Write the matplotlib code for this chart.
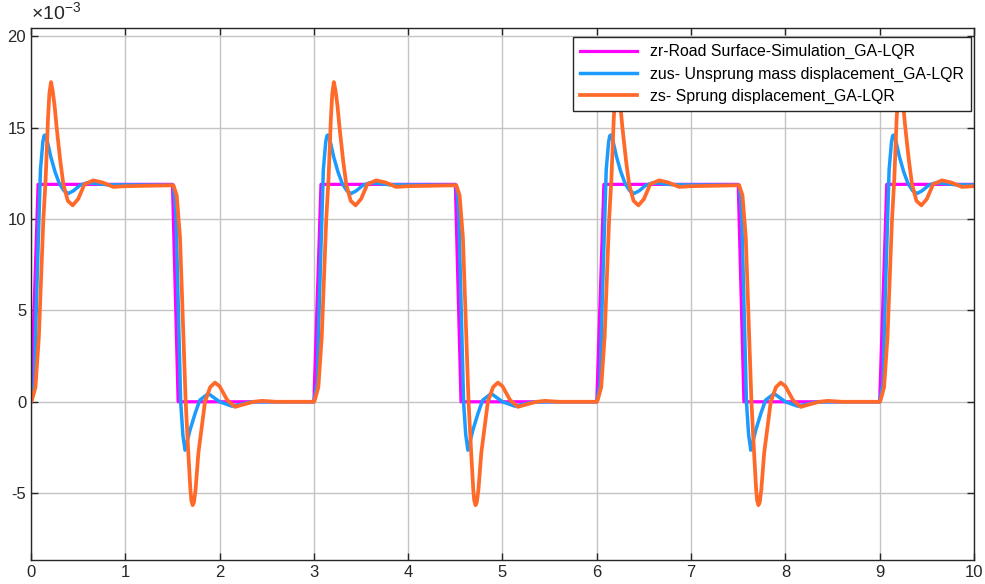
import numpy as np
import matplotlib.pyplot as plt

plt.rcParams['font.family'] = ['Liberation Sans', 'DejaVu Sans']
plt.rcParams['mathtext.fontset'] = 'custom'
plt.rcParams['mathtext.rm'] = 'Liberation Sans'
plt.rcParams['axes.unicode_minus'] = False

# one period (3 s) of each signal, values in units of 1e-3
period = 3.0
n_periods = 4

zr_t = [0.0, 0.075, 1.50, 1.56, 2.999]
zr_y = [0.0, 11.9, 11.9, 0.0, 0.0]

zus_t = [0.0, 0.02, 0.035, 0.057, 0.083, 0.10, 0.125, 0.137, 0.148, 0.16, 0.175,
         0.21, 0.254, 0.30, 0.35, 0.396, 0.45, 0.52, 0.59, 0.68, 0.80, 1.0, 1.51,
         1.525, 1.538, 1.562, 1.587, 1.61, 1.633, 1.686, 1.74, 1.79, 1.88, 2.0,
         2.13, 2.32, 2.5, 2.999]
zus_y = [0.0, 0.6, 1.0, 5.4, 9.9, 12.7, 14.2, 14.55, 14.6, 14.5, 14.2,
         13.4, 12.6, 11.95, 11.55, 11.4, 11.55, 11.85, 11.98, 11.95, 11.88, 11.87, 11.85,
         11.1, 10.0, 5.0, 0.0, -1.8, -2.65, -1.55, -0.64, 0.09, 0.45, 0.0,
         -0.24, -0.02, 0.0, 0.0]

zs_t = [0.0, 0.01, 0.047, 0.083, 0.13, 0.155, 0.18, 0.195, 0.212, 0.23, 0.25,
        0.272, 0.31, 0.343, 0.39, 0.442, 0.50, 0.566, 0.66, 0.76, 0.873, 1.0, 1.51,
        1.545, 1.58, 1.61, 1.64, 1.668, 1.69, 1.70, 1.714, 1.728, 1.745, 1.775,
        1.845, 1.90, 1.951, 2.0, 2.08, 2.163, 2.25, 2.36, 2.45, 2.6, 2.99]
zs_y = [0.0, 0.1, 0.8, 3.55, 9.9, 12.2, 15.5, 16.9, 17.5, 17.0, 16.2,
        15.0, 13.2, 11.9, 11.0, 10.75, 11.1, 11.9, 12.12, 12.0, 11.76, 11.8, 11.85,
        11.3, 9.0, 4.5, 0.0, -2.8, -4.8, -5.4, -5.66, -5.5, -4.8, -2.8,
        0.0, 0.8, 1.05, 0.85, 0.1, -0.28, -0.15, 0.0, 0.05, 0.0, 0.0]

labels = ['zr-Road Surface-Simulation_GA-LQR',
          'zus- Unsprung mass displacement_GA-LQR',
          'zs- Sprung displacement_GA-LQR']


def repeat(t, y):
    tt = np.concatenate([np.array(t) + k * period for k in range(n_periods)])
    yy = np.tile(np.array(y), n_periods)
    keep = tt <= 10.0
    tt, yy = tt[keep], yy[keep]
    if tt[-1] < 10.0:
        tt = np.append(tt, 10.0)
        yy = np.append(yy, np.interp(10.0, np.array(t) + 9.0, y))
    return tt, yy


fig = plt.figure(figsize=(9.85, 5.84), dpi=100)
ax = fig.add_axes([0.0315, 0.0411, 0.9573, 0.911])

ax.plot(*repeat(zr_t, zr_y), color='#FF00FF', lw=2.3, label=labels[0])
ax.plot(*repeat(zus_t, zus_y), color='#1C9BFF', lw=2.5, label=labels[1])
ax.plot(*repeat(zs_t, zs_y), color='#FF6A2A', lw=2.7, label=labels[2])

ax.set_xlim(0, 10)
ax.set_ylim(-8.66, 20.46)
ax.set_xticks(range(0, 11))
ax.set_yticks([-5, 0, 5, 10, 15, 20])
ax.grid(True, color='#C4C4C4', lw=1)
ax.tick_params(direction='in', top=True, right=True, labelsize=12,
               colors='#262626', length=5, width=1)
for s in ax.spines.values():
    s.set_color('#262626')
    s.set_linewidth(1)

ax.text(0.0, 1.008, r'$\times10^{-3}$', transform=ax.transAxes, fontsize=14,
        color='#262626', ha='left', va='bottom')

leg = ax.legend(loc='upper right', bbox_to_anchor=(0.9965, 0.983), fontsize=11.4,
                fancybox=False, edgecolor='#262626', framealpha=1,
                handlelength=3.6, borderaxespad=0, labelspacing=0.45,
                borderpad=0.45)
leg.get_frame().set_linewidth(1)

fig.savefig('out.png', dpi=100)
